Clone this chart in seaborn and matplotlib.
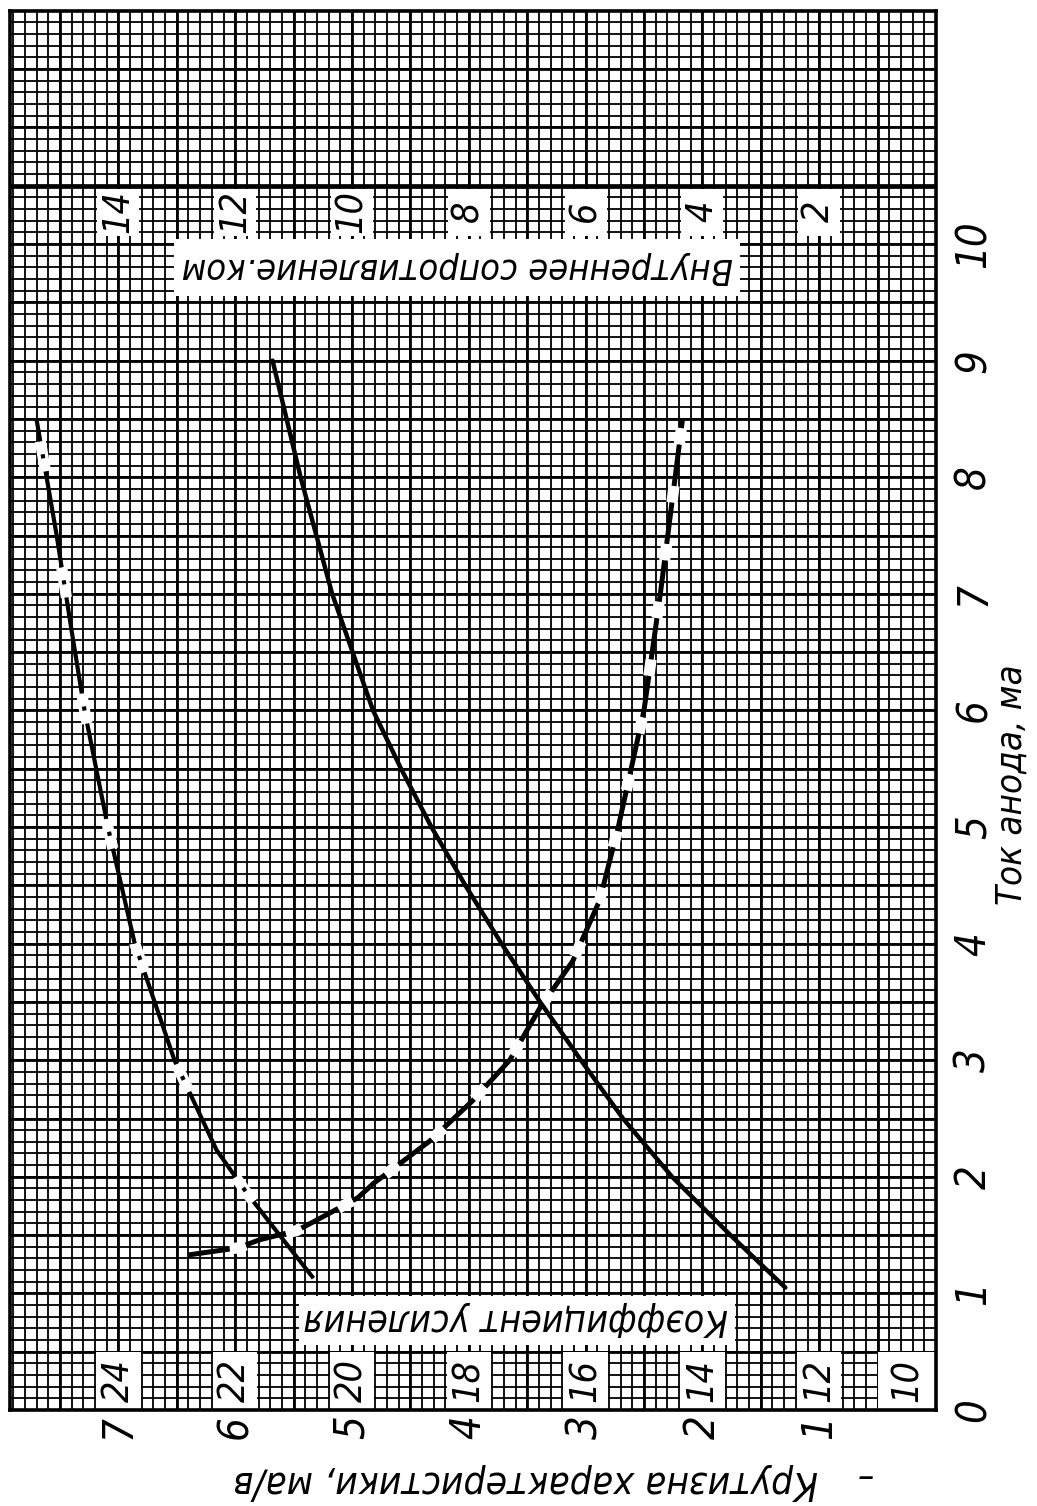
import numpy as np
import pandas as pd
import matplotlib
matplotlib.use("Agg")
import matplotlib.pyplot as plt
from matplotlib.patches import Rectangle
from matplotlib import font_manager
import seaborn as sns

# ---------------- data ----------------
current_ticks = [0, 1, 2, 3, 4, 5, 6, 7, 8, 9, 10]          # анодный ток, ма
slope_ticks = [1, 2, 3, 4, 5, 6, 7]                          # крутизна, ма/в
resistance_labels = [2, 4, 6, 8, 10, 12, 14]                 # ком
mu_labels = [10, 12, 14, 16, 18, 20, 22, 24]                 # коэффициент усиления

# Крутизна характеристики (solid)
slope_I = [1.05, 1.5, 2.0, 2.5, 3.0, 3.5, 4.0, 4.5, 5.0, 5.5, 6.0, 7.0, 8.0, 9.0]
slope_S = [1.29, 1.76, 2.26, 2.68, 3.04, 3.39, 3.72, 4.03, 4.32, 4.58, 4.82, 5.17, 5.44, 5.68]

# Внутреннее сопротивление, ком (dashed)
res_I = [1.33, 1.39, 1.46, 1.54, 1.63, 1.82, 1.94, 2.31, 2.65, 3.0, 3.45, 3.85, 4.37, 5.0, 6.0, 7.0, 8.5]
res_R = [12.8, 11.96, 11.58, 10.94, 10.6, 9.9, 9.64, 8.66, 7.94, 7.3, 6.78, 6.22, 5.76, 5.44, 5.0, 4.72, 4.34]

# Коэффициент усиления (dash-dot)
mu_I = [1.13, 1.5, 1.86, 2.23, 3.0, 4.0, 5.0, 6.0, 6.68, 7.51, 8.49]
mu_V = [20.66, 21.24, 21.8, 22.32, 23.04, 23.72, 24.18, 24.58, 24.8, 25.06, 25.4]

# ---------------- style ----------------
sns.set_theme(style="white")
entries = font_manager.fontManager.ttflist
names = {f.name for f in entries}
cond = any(f.name == "DejaVu Sans" and str(f.stretch) in ("condensed", "semi-condensed", "500", "400")
           and "Condensed" in f.fname for f in entries)
if "Liberation Sans Narrow" in names:
    FAM = ["Liberation Sans Narrow", "DejaVu Sans"]
    STRETCH = "normal"
elif cond:
    FAM = ["DejaVu Sans"]
    STRETCH = "condensed"
else:
    FAM = ["Roboto", "DejaVu Sans"] if "Roboto" in names else ["Liberation Sans", "DejaVu Sans"]
    STRETCH = "normal"
plt.rcParams["font.family"] = FAM
plt.rcParams["lines.scale_dashes"] = False
TXT = dict(fontstyle="italic", color="black", family=FAM, fontstretch=STRETCH)

W, H = 1037, 1506
fig = plt.figure(figsize=(W / 100, H / 100), dpi=100)
fig.patch.set_facecolor("white")
L, R, B, T = 10, 936, 1410, 11
ax = fig.add_axes([L / W, (H - B) / H, (R - L) / W, (B - T) / H])
XMAX = (R - L) / 116.8
YMAX = (B - T) / 116.6
ax.set_xlim(XMAX, 0)
ax.set_ylim(0, YMAX)
ax.set_facecolor("white")

# graph paper
xs_minor = np.arange(0, XMAX, 0.1)
ys_minor = np.arange(0, YMAX, 0.1)
ax.vlines(xs_minor, 0, YMAX, color="black", lw=1.3, zorder=1)
ax.hlines(ys_minor, 0, XMAX, color="black", lw=1.3, zorder=1)
xs_major = np.arange(0.5, XMAX, 0.5)
ys_major = np.arange(0.5, YMAX, 0.5)
ax.vlines(xs_major, 0, YMAX, color="black", lw=2.0, zorder=1)
ax.hlines(ys_major, 0, XMAX, color="black", lw=2.0, zorder=1)
ax.hlines([10.5], 0, XMAX, color="black", lw=3.4, zorder=1)

for sp in ax.spines.values():
    sp.set_visible(True)
    sp.set_color("black")
    sp.set_linewidth(2.6)
    sp.set_zorder(6)

def wbox(x0, x1, y0, y1):
    ax.add_patch(Rectangle((min(x0, x1), min(y0, y1)), abs(x1 - x0), abs(y1 - y0),
                           facecolor="white", edgecolor="none", zorder=2))

# top title box and resistance scale
wbox(6.52, 1.68, 9.55, 10.04)
for r in resistance_labels:
    s = r / 2
    wbox(s - 0.18, s + 0.18, 10.07, 10.47)
    ax.text(s, 10.28, str(r), rotation=90, ha="center", va="center", fontsize=27, zorder=3, **TXT)
t_res = ax.text(4.1, 9.79, "Внутреннее сопротивление.ком", rotation=180, ha="center", va="center",
                fontsize=29, zorder=3, **TXT)

# bottom title box and mu scale
wbox(5.45, 1.72, 0.56, 0.98)
for m in mu_labels:
    s = max((m - 10) / 2, 0.24)
    if m == 10:
        wbox(0.0, 0.5, 0.0, 0.5)
    else:
        wbox(s - 0.19, s + 0.19, 0.0, 0.5)
    ax.text(s, 0.25, str(m), rotation=90, ha="center", va="center", fontsize=27, zorder=3, **TXT)
t_mu = ax.text(3.6, 0.78, "Коэффициент усиления", rotation=180, ha="center", va="center",
               fontsize=29, zorder=3, **TXT)

# ---------------- curves ----------------
df_s = pd.DataFrame({"I": slope_I, "pos": slope_S})
df_r = pd.DataFrame({"I": res_I, "pos": np.array(res_R) / 2.0})
df_m = pd.DataFrame({"I": mu_I, "pos": (np.array(mu_V) - 10.0) / 2.0})

sns.lineplot(data=df_m, x="pos", y="I", sort=False, estimator=None, ax=ax, color="white",
             lw=8, linestyle=(22, (22, 70)), zorder=4)
sns.lineplot(data=df_m, x="pos", y="I", sort=False, estimator=None, ax=ax, color="black",
             lw=3.0, linestyle=(0, (70, 9.5, 3, 9.5)), zorder=5)

sns.lineplot(data=df_r, x="pos", y="I", sort=False, estimator=None, ax=ax, color="white",
             lw=8, linestyle=(12, (12, 30)), zorder=4)
sns.lineplot(data=df_r, x="pos", y="I", sort=False, estimator=None, ax=ax, color="black",
             lw=3.6, linestyle=(0, (30, 12)), zorder=5)

sns.lineplot(data=df_s, x="pos", y="I", sort=False, estimator=None, ax=ax, color="black",
             lw=3.2, zorder=5)

# ---------------- axes text ----------------
ax.yaxis.tick_right()
ax.set_yticks(current_ticks)
ax.set_yticklabels([str(v) for v in current_ticks], rotation=90, va="center", fontsize=30, **TXT)
ax.set_xticks(slope_ticks)
ax.set_xticklabels([str(v) for v in slope_ticks], rotation=90, ha="center", fontsize=30, **TXT)
ax.tick_params(axis="y", length=0, pad=12)
ax.tick_params(axis="x", length=0, pad=4)

ax.yaxis.set_label_position("right")
ax.set_ylabel("Ток анода, ма", rotation=90, fontsize=31, **TXT)
ax.yaxis.set_label_coords((1012 - L) / (R - L), (B - 785) / (B - T))
ax.set_xlabel("Крутизна характеристики, ма/в", rotation=180, fontsize=31, **TXT)
ax.xaxis.set_label_coords((526 - L) / (R - L), -(1482 - B) / (B - T))
for lab in (ax.xaxis.label, ax.yaxis.label):
    lab.set_va("center")
    lab.set_ha("center")
fig.text(866 / W, 1 - 1478 / H, "–", ha="center", va="center", fontsize=26, **TXT)

# fit long labels to the lengths seen in the reference
fig.canvas.draw()
rend = fig.canvas.get_renderer()
for t, target in ((t_res, 550), (t_mu, 425), (ax.yaxis.label, 240), (ax.xaxis.label, 585)):
    bb = t.get_window_extent(rend)
    length = max(bb.width, bb.height)
    t.set_fontsize(t.get_fontsize() * target / length)

fig.savefig("out.png", dpi=100, facecolor="white")
